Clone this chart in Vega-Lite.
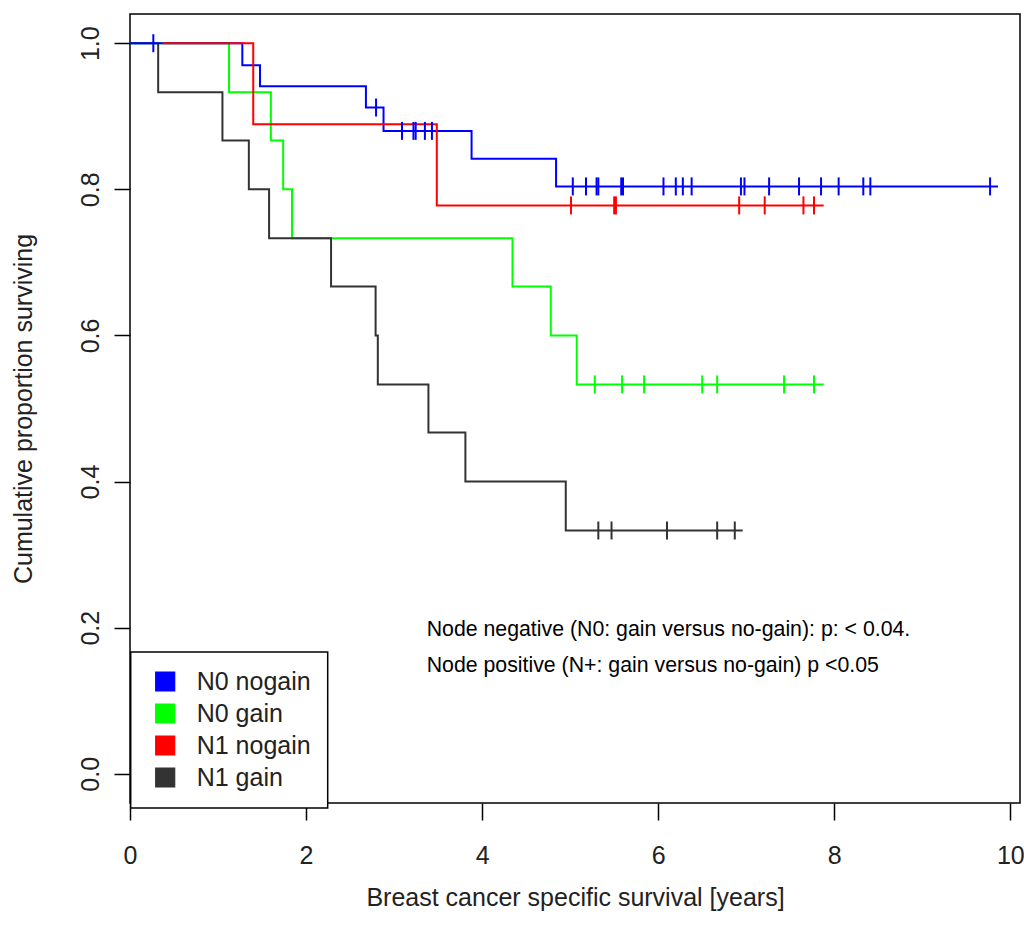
{
  "$schema": "https://vega.github.io/schema/vega-lite/v6.json",
  "width": 890,
  "height": 789,
  "autosize": {"type": "none"},
  "padding": {"left": 130, "top": 14, "right": 4, "bottom": 124},
  "background": "white",
  "config": {"view": {"stroke": "black", "strokeWidth": 1.5}, "font": "Liberation Sans"},
  "datasets": {
    "km": [
      {"g": "N0 nogain", "t": 0, "s": 1, "c": 0},
      {"g": "N0 nogain", "t": 0.265, "s": 1, "c": 1},
      {"g": "N0 nogain", "t": 1.276, "s": 0.970, "c": 0},
      {"g": "N0 nogain", "t": 1.477, "s": 0.941, "c": 0},
      {"g": "N0 nogain", "t": 2.68, "s": 0.912, "c": 0},
      {"g": "N0 nogain", "t": 2.795, "s": 0.912, "c": 1},
      {"g": "N0 nogain", "t": 2.88, "s": 0.880, "c": 0},
      {"g": "N0 nogain", "t": 3.09, "s": 0.880, "c": 1},
      {"g": "N0 nogain", "t": 3.22, "s": 0.880, "c": 1},
      {"g": "N0 nogain", "t": 3.245, "s": 0.880, "c": 1},
      {"g": "N0 nogain", "t": 3.35, "s": 0.880, "c": 1},
      {"g": "N0 nogain", "t": 3.43, "s": 0.880, "c": 1},
      {"g": "N0 nogain", "t": 3.88, "s": 0.842, "c": 0},
      {"g": "N0 nogain", "t": 4.84, "s": 0.804, "c": 0},
      {"g": "N0 nogain", "t": 5.03, "s": 0.804, "c": 1},
      {"g": "N0 nogain", "t": 5.18, "s": 0.804, "c": 1},
      {"g": "N0 nogain", "t": 5.30, "s": 0.804, "c": 1},
      {"g": "N0 nogain", "t": 5.32, "s": 0.804, "c": 1},
      {"g": "N0 nogain", "t": 5.58, "s": 0.804, "c": 1},
      {"g": "N0 nogain", "t": 5.60, "s": 0.804, "c": 1},
      {"g": "N0 nogain", "t": 6.06, "s": 0.804, "c": 1},
      {"g": "N0 nogain", "t": 6.20, "s": 0.804, "c": 1},
      {"g": "N0 nogain", "t": 6.28, "s": 0.804, "c": 1},
      {"g": "N0 nogain", "t": 6.38, "s": 0.804, "c": 1},
      {"g": "N0 nogain", "t": 6.94, "s": 0.804, "c": 1},
      {"g": "N0 nogain", "t": 6.98, "s": 0.804, "c": 1},
      {"g": "N0 nogain", "t": 7.26, "s": 0.804, "c": 1},
      {"g": "N0 nogain", "t": 7.60, "s": 0.804, "c": 1},
      {"g": "N0 nogain", "t": 7.85, "s": 0.804, "c": 1},
      {"g": "N0 nogain", "t": 8.05, "s": 0.804, "c": 1},
      {"g": "N0 nogain", "t": 8.33, "s": 0.804, "c": 1},
      {"g": "N0 nogain", "t": 8.41, "s": 0.804, "c": 1},
      {"g": "N0 nogain", "t": 9.77, "s": 0.804, "c": 1},
      {"g": "N0 nogain", "t": 9.86, "s": 0.804, "c": 0},
      {"g": "N1 nogain", "t": 0.37, "s": 1, "c": 0},
      {"g": "N1 nogain", "t": 1.40, "s": 0.889, "c": 0},
      {"g": "N1 nogain", "t": 3.485, "s": 0.778, "c": 0},
      {"g": "N1 nogain", "t": 5.01, "s": 0.778, "c": 1},
      {"g": "N1 nogain", "t": 5.50, "s": 0.778, "c": 1},
      {"g": "N1 nogain", "t": 5.52, "s": 0.778, "c": 1},
      {"g": "N1 nogain", "t": 6.92, "s": 0.778, "c": 1},
      {"g": "N1 nogain", "t": 7.21, "s": 0.778, "c": 1},
      {"g": "N1 nogain", "t": 7.65, "s": 0.778, "c": 1},
      {"g": "N1 nogain", "t": 7.77, "s": 0.778, "c": 1},
      {"g": "N1 nogain", "t": 7.88, "s": 0.778, "c": 0},
      {"g": "N0 gain", "t": 0, "s": 1, "c": 0},
      {"g": "N0 gain", "t": 1.125, "s": 0.933, "c": 0},
      {"g": "N0 gain", "t": 1.60, "s": 0.867, "c": 0},
      {"g": "N0 gain", "t": 1.74, "s": 0.800, "c": 0},
      {"g": "N0 gain", "t": 1.84, "s": 0.733, "c": 0},
      {"g": "N0 gain", "t": 4.345, "s": 0.667, "c": 0},
      {"g": "N0 gain", "t": 4.78, "s": 0.600, "c": 0},
      {"g": "N0 gain", "t": 5.075, "s": 0.533, "c": 0},
      {"g": "N0 gain", "t": 5.28, "s": 0.533, "c": 1},
      {"g": "N0 gain", "t": 5.59, "s": 0.533, "c": 1},
      {"g": "N0 gain", "t": 5.84, "s": 0.533, "c": 1},
      {"g": "N0 gain", "t": 6.50, "s": 0.533, "c": 1},
      {"g": "N0 gain", "t": 6.67, "s": 0.533, "c": 1},
      {"g": "N0 gain", "t": 7.43, "s": 0.533, "c": 1},
      {"g": "N0 gain", "t": 7.77, "s": 0.533, "c": 1},
      {"g": "N0 gain", "t": 7.88, "s": 0.533, "c": 0},
      {"g": "N1 gain", "t": 0, "s": 1, "c": 0},
      {"g": "N1 gain", "t": 0.32, "s": 0.933, "c": 0},
      {"g": "N1 gain", "t": 1.05, "s": 0.867, "c": 0},
      {"g": "N1 gain", "t": 1.35, "s": 0.800, "c": 0},
      {"g": "N1 gain", "t": 1.58, "s": 0.733, "c": 0},
      {"g": "N1 gain", "t": 2.284, "s": 0.667, "c": 0},
      {"g": "N1 gain", "t": 2.79, "s": 0.600, "c": 0},
      {"g": "N1 gain", "t": 2.815, "s": 0.533, "c": 0},
      {"g": "N1 gain", "t": 3.39, "s": 0.467, "c": 0},
      {"g": "N1 gain", "t": 3.81, "s": 0.400, "c": 0},
      {"g": "N1 gain", "t": 4.95, "s": 0.333, "c": 0},
      {"g": "N1 gain", "t": 5.32, "s": 0.333, "c": 1},
      {"g": "N1 gain", "t": 5.47, "s": 0.333, "c": 1},
      {"g": "N1 gain", "t": 6.10, "s": 0.333, "c": 1},
      {"g": "N1 gain", "t": 6.67, "s": 0.333, "c": 1},
      {"g": "N1 gain", "t": 6.87, "s": 0.333, "c": 1},
      {"g": "N1 gain", "t": 6.96, "s": 0.333, "c": 0}
    ],
    "notes": [
      {"t": 3.37, "s": 0.189, "label": "Node negative (N0: gain versus no-gain): p: < 0.04."},
      {"t": 3.37, "s": 0.139, "label": "Node positive (N+: gain versus no-gain) p <0.05"}
    ]
  },
  "encoding": {
    "x": {
      "field": "t", "type": "quantitative",
      "scale": {"domain": [0, 10.11], "nice": false, "zero": false},
      "axis": {
        "values": [0, 2, 4, 6, 8, 10], "grid": false, "domain": false,
        "tickSize": 17, "tickWidth": 1.5, "tickColor": "black",
        "labelFontSize": 25, "labelPadding": 23, "labelColor": "#222", "labelBaseline": "top",
        "labelFlush": false, "labelOverlap": false,
        "title": "Breast cancer specific survival [years]", "titleFontSize": 25,
        "titleFontWeight": "normal", "titleColor": "#222", "titleY": 102, "titleBaseline": "alphabetic"
      }
    },
    "y": {
      "field": "s", "type": "quantitative",
      "scale": {"domain": [-0.04, 1.04], "nice": false, "zero": false},
      "axis": {
        "values": [0, 0.2, 0.4, 0.6, 0.8, 1], "format": ".1f", "grid": false, "domain": false,
        "tickSize": 16, "tickWidth": 1.5, "tickColor": "black",
        "labelAngle": -90, "labelAlign": "center", "labelBaseline": "alphabetic", "labelPadding": 16,
        "labelFontSize": 25, "labelColor": "#222", "labelFlush": false, "labelOverlap": false,
        "title": "Cumulative proportion surviving", "titleFontSize": 25, "titleFontWeight": "normal",
        "titleColor": "#222", "titleAngle": -90, "titleX": -99, "titleY": 394.5,
        "titleBaseline": "alphabetic", "titleAlign": "center"
      }
    }
  },
  "layer": [
    {
      "data": {"name": "km"},
      "transform": [{"filter": "datum.g === 'N0 gain'"}],
      "mark": {"type": "line", "interpolate": "step-after", "strokeWidth": 2},
      "encoding": {
        "color": {
          "field": "g", "type": "nominal",
          "scale": {"domain": ["N0 nogain", "N0 gain", "N1 nogain", "N1 gain"], "range": ["#0000ff", "#00ff00", "#ff0000", "#333333"]},
          "legend": {
            "title": null, "orient": "none", "legendX": 0.7, "legendY": 638, "direction": "vertical",
            "padding": 17, "strokeColor": "black", "fillColor": "white",
            "labelFontSize": 25, "labelFont": "Liberation Sans", "labelColor": "#222",
            "symbolType": "square", "symbolSize": 361, "symbolOffset": 5, "labelOffset": 19, "rowPadding": 6,
            "symbolStrokeColor": "black", "symbolStrokeWidth": 1.2,
            "encode": {
              "symbols": {"update": {"fill": {"scale": "color", "field": "value"}, "stroke": {"value": "black"}, "strokeWidth": {"value": 1.2}, "shape": {"value": "square"}, "opacity": {"value": 1}}},
              "legend": {"update": {"stroke": {"value": "black"}, "strokeWidth": {"value": 1.5}, "fill": {"value": "white"}}}
            }
          }
        }
      }
    },
    {
      "data": {"name": "km"},
      "transform": [{"filter": "datum.g === 'N1 gain'"}],
      "mark": {"type": "line", "interpolate": "step-after", "strokeWidth": 2},
      "encoding": {"color": {"field": "g", "type": "nominal"}}
    },
    {
      "data": {"name": "km"},
      "transform": [{"filter": "datum.g === 'N0 nogain'"}],
      "mark": {"type": "line", "interpolate": "step-after", "strokeWidth": 2},
      "encoding": {"color": {"field": "g", "type": "nominal"}}
    },
    {
      "data": {"name": "km"},
      "transform": [{"filter": "datum.g === 'N1 nogain'"}],
      "mark": {"type": "line", "interpolate": "step-after", "strokeWidth": 2},
      "encoding": {"color": {"field": "g", "type": "nominal"}}
    },
    {
      "data": {"name": "km"},
      "transform": [{"filter": "datum.c === 1"}],
      "mark": {"type": "point", "shape": "M0,-1L0,1", "size": 324, "strokeWidth": 2, "filled": false, "opacity": 1},
      "encoding": {"color": {"field": "g", "type": "nominal"}}
    },
    {
      "data": {"name": "notes"},
      "mark": {"type": "text", "align": "left", "baseline": "alphabetic", "fontSize": 21.3, "color": "black", "font": "Liberation Sans"},
      "encoding": {"text": {"field": "label"}}
    }
  ]
}
